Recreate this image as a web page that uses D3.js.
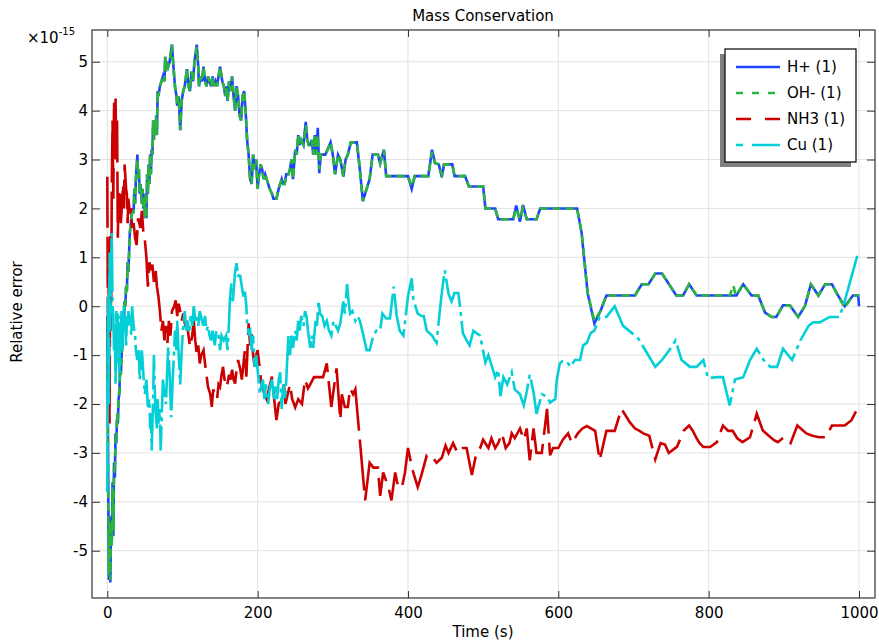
<!DOCTYPE html>
<html>
<head>
<meta charset="utf-8">
<script src="https://cdn.jsdelivr.net/npm/d3@7"></script>
<style>
body { margin: 0; background: #fff; }
text { font-family: "DejaVu Sans", sans-serif; fill: #000; }
</style>
</head>
<body>
<svg id="chart" width="879" height="640"></svg>
<script>
// tick values
var xTicks = [0, 200, 400, 600, 800, 1000];
var yTicks = [-5, -4, -3, -2, -1, 0, 1, 2, 3, 4, 5];
var seriesNames = ['H+ (1)', 'OH- (1)', 'NH3 (1)', 'Cu (1)'];

// [time (s), relative error x1e-15]
var hPlus = [[0,-0.2],[1,-3.0],[2,-5.6],[3,-4.3],[4,-5.65],[5,-4.5],[6,-4.8],[7,-3.6],[8,-4.7],[9,-3.2],[10,-3.5],[11,-2.6],[12,-2.8],[13,-2.3],[14,-2.4],[15,-1.9],[16,-1.8],[17,-1.3],[18,-1.4],[19,-1.0],[20,-0.8],[21,-0.4],[22,-0.5],[23,0.1],[24,0.0],[25,0.4],[26,0.3],[27,0.9],[28,0.7],[29,1.1],[30,1.5],[32,1.8],[33,2.0],[35,1.9],[36,2.4],[37,2.1],[38,2.6],[40,3.1],[41,2.6],[42,2.8],[43,2.3],[44,2.5],[46,2.1],[47,2.4],[48,2.0],[49,2.2],[50,1.8],[51,2.3],[52,1.8],[53,2.7],[54,2.3],[55,2.9],[56,2.5],[57,3.1],[58,2.7],[59,3.2],[60,3.1],[61,3.8],[62,3.4],[63,3.7],[64,3.5],[65,3.9],[66,3.5],[67,4.4],[68,4.3],[70,4.5],[72,4.6],[74,4.7],[76,4.6],[77,5.1],[78,4.8],[79,5.0],[81,4.9],[83,5.0],[86,5.35],[88,4.9],[90,4.5],[92,4.3],[93,4.1],[95,4.3],[97,3.6],[99,4.2],[101,4.4],[103,4.5],[106,4.85],[108,4.5],[110,4.4],[112,4.8],[114,4.6],[116,5.0],[119,5.35],[121,4.9],[122,4.5],[124,4.7],[126,4.6],[128,4.9],[130,4.6],[132,4.5],[134,4.7],[136,4.6],[138,4.5],[140,4.7],[142,4.5],[144,4.6],[146,4.5],[148,4.7],[150,4.9],[153,4.6],[155,4.5],[157,4.3],[159,4.5],[160,4.2],[162,4.6],[164,4.4],[166,4.7],[168,4.3],[170,4.0],[172,4.5],[174,4.3],[176,3.9],[178,3.8],[180,4.3],[182,4.4],[184,4.0],[186,3.4],[188,3.1],[190,2.6],[192,2.5],[194,3.1],[196,2.8],[198,3.0],[200,2.4],[202,2.7],[204,2.9],[206,2.8],[208,2.6],[210,2.7],[212,2.6],[214,2.5],[216,2.4],[219,2.3],[221,2.2],[225,2.2],[228,2.4],[230,2.5],[232,2.6],[234,2.5],[236,2.5],[238,2.7],[241,2.7],[243,2.8],[245,3.0],[247,2.6],[250,3.2],[252,3.1],[254,3.5],[256,3.3],[258,3.4],[261,3.3],[264,3.77],[266,3.4],[268,3.3],[270,3.3],[272,3.4],[274,3.1],[276,3.5],[278,3.1],[280,3.65],[282,2.72],[284,3.1],[290,3.1],[293,3.2],[297,3.35],[300,3.1],[303,2.7],[307,3.1],[310,3.0],[314,2.65],[317,3.0],[320,3.1],[324,3.35],[332,3.35],[336,2.8],[340,2.15],[345,2.4],[349,2.6],[353,3.1],[360,3.1],[363,2.92],[368,3.2],[371,2.66],[400,2.66],[405,2.4],[409,2.66],[427,2.66],[432,3.2],[436,2.93],[441,2.9],[445,2.64],[448,2.9],[459,2.9],[462,2.66],[476,2.66],[481,2.45],[500,2.45],[503,2.0],[516,2.0],[520,1.78],[540,1.78],[544,2.06],[549,1.73],[553,2.07],[558,1.78],[571,1.78],[576,2.0],[625,2.0],[631,1.5],[639,0.27],[648,-0.35],[656,-0.1],[664,0.22],[702,0.22],[711,0.45],[720,0.45],[729,0.67],[738,0.67],[757,0.22],[766,0.22],[774,0.45],[784,0.22],[837,0.22],[846,0.45],[857,0.22],[866,0.22],[875,-0.13],[884,-0.22],[890,-0.22],[899,0.02],[908,0.02],[919,-0.22],[928,0.0],[936,0.45],[946,0.22],[955,0.45],[964,0.45],[972,0.22],[981,0.0],[992,0.22],[999,0.22],[1000,0.0]];

var ohMinus = [[0,-0.3],[1,-3.1],[2,-5.5],[3,-4.4],[4,-5.6],[5,-4.4],[6,-4.9],[7,-3.7],[8,-4.6],[9,-3.3],[10,-3.4],[11,-2.7],[12,-2.8],[13,-2.2],[14,-2.4],[15,-1.9],[16,-1.7],[17,-1.3],[18,-1.4],[19,-1.0],[20,-0.8],[21,-0.4],[22,-0.5],[23,0.1],[24,0.0],[25,0.4],[26,0.3],[27,0.9],[28,0.7],[29,1.1],[30,1.5],[32,1.8],[33,2.0],[35,1.9],[36,2.4],[37,2.1],[38,2.6],[40,3.0],[41,2.6],[42,2.8],[43,2.3],[44,2.5],[46,2.1],[47,2.4],[48,2.0],[49,2.2],[50,1.8],[51,2.3],[52,1.8],[53,2.7],[54,2.3],[55,2.9],[56,2.5],[57,3.1],[58,2.7],[59,3.2],[60,3.1],[61,3.8],[62,3.4],[63,3.7],[64,3.5],[65,3.9],[66,3.5],[67,4.4],[68,4.3],[70,4.5],[72,4.6],[74,4.7],[76,4.6],[77,5.1],[78,4.8],[79,5.0],[81,4.9],[83,5.0],[86,5.35],[88,4.9],[90,4.5],[92,4.3],[93,4.1],[95,4.3],[97,3.6],[99,4.2],[101,4.4],[103,4.5],[106,4.85],[108,4.5],[110,4.4],[112,4.8],[114,4.6],[116,5.0],[119,5.3],[121,4.9],[122,4.5],[124,4.7],[126,4.6],[128,4.9],[130,4.6],[132,4.5],[134,4.7],[136,4.6],[138,4.5],[140,4.7],[142,4.5],[144,4.6],[146,4.5],[148,4.7],[150,4.9],[153,4.6],[155,4.5],[157,4.3],[159,4.5],[160,4.2],[162,4.6],[164,4.4],[166,4.7],[168,4.3],[170,4.0],[172,4.5],[174,4.3],[176,3.9],[178,3.8],[180,4.3],[182,4.4],[184,4.0],[186,3.4],[188,3.1],[190,2.6],[192,2.5],[194,3.1],[196,2.8],[198,3.0],[200,2.4],[202,2.7],[204,2.9],[206,2.8],[208,2.6],[210,2.7],[212,2.6],[214,2.5],[216,2.4],[219,2.3],[221,2.2],[225,2.2],[228,2.4],[230,2.5],[232,2.6],[234,2.5],[236,2.5],[238,2.7],[241,2.7],[243,2.8],[245,3.0],[247,2.6],[250,3.2],[252,3.1],[254,3.5],[256,3.3],[258,3.4],[261,3.3],[264,3.7],[266,3.4],[268,3.3],[270,3.3],[272,3.4],[274,3.1],[276,3.5],[278,3.1],[280,3.5],[282,2.8],[284,3.1],[290,3.1],[293,3.2],[297,3.35],[300,3.1],[303,2.7],[307,3.1],[310,3.0],[314,2.65],[317,3.0],[320,3.1],[324,3.35],[332,3.35],[336,2.8],[340,2.15],[345,2.4],[349,2.6],[353,3.1],[360,3.1],[363,2.92],[368,3.2],[371,2.66],[400,2.66],[405,2.45],[409,2.66],[427,2.66],[432,3.15],[436,2.93],[441,2.9],[445,2.7],[448,2.9],[459,2.9],[462,2.66],[476,2.66],[481,2.45],[500,2.45],[503,2.0],[516,2.0],[520,1.78],[540,1.78],[544,2.0],[549,1.78],[553,2.0],[558,1.78],[571,1.78],[576,2.0],[625,2.0],[631,1.5],[639,0.27],[648,-0.3],[656,-0.1],[664,0.22],[702,0.22],[711,0.45],[720,0.45],[729,0.67],[738,0.67],[757,0.22],[766,0.22],[774,0.45],[784,0.22],[828,0.22],[833,0.42],[836,0.22],[846,0.45],[857,0.22],[866,0.22],[875,-0.13],[884,-0.22],[890,-0.22],[899,0.02],[908,0.02],[919,-0.22],[928,0.0],[936,0.45],[946,0.22],[955,0.45],[964,0.45],[972,0.22],[981,-0.03],[992,0.22],[1000,0.22]];

var nh3 = [[0,2.65],[1,-1.0],[2,0.6],[3,-2.4],[4,1.5],[5,-0.5],[6,2.5],[7,3.8],[8,2.2],[9,4.2],[10,3.3],[11,4.25],[12,3.0],[13,3.8],[14,1.4],[15,2.4],[16,1.8],[17,2.3],[18,1.7],[19,1.95],[21,2.5],[22,2.0],[23,2.9],[25,2.4],[26,2.3],[27,1.7],[28,2.2],[30,1.9],[32,2.0],[33,1.6],[35,1.7],[37,1.4],[39,1.25],[41,1.8],[44,1.6],[46,1.95],[48,1.5],[50,1.35],[52,1.0],[54,0.4],[56,0.9],[58,0.74],[60,0.85],[62,0.5],[64,0.8],[66,0.4],[68,0.2],[70,-0.1],[72,-0.5],[74,-0.3],[76,-0.7],[78,-0.4],[80,-0.75],[82,-0.3],[84,-0.6],[86,-0.1],[89,0.0],[91,0.12],[93,-0.2],[95,0.05],[97,-0.1],[99,-0.3],[101,-0.15],[104,-0.43],[106,-0.3],[108,-0.6],[110,-0.83],[113,-0.6],[115,-0.3],[117,-0.7],[119,-0.97],[121,-0.8],[123,-1.17],[125,-1.0],[128,-0.9],[131,-1.3],[134,-1.65],[137,-1.8],[139,-2.06],[141,-1.7],[143,-1.8],[146,-1.9],[148,-1.6],[150,-1.65],[152,-1.4],[154,-1.24],[156,-1.5],[159,-1.65],[162,-1.4],[164,-1.5],[166,-1.3],[168,-1.5],[170,-1.58],[172,-1.3],[174,-1.1],[177,-1.3],[179,-1.5],[181,-1.2],[183,-0.9],[185,-1.44],[188,-0.35],[190,-0.8],[192,-0.57],[194,-1.0],[196,-1.24],[198,-1.0],[200,-0.9],[203,-1.3],[205,-1.6],[208,-1.75],[212,-1.9],[215,-1.7],[219,-1.44],[222,-1.9],[225,-2.33],[228,-2.0],[230,-1.95],[233,-2.0],[235,-1.6],[237,-2.0],[240,-1.8],[243,-1.6],[246,-1.9],[250,-2.07],[254,-1.9],[259,-2.0],[263,-1.5],[267,-1.68],[270,-1.6],[275,-1.45],[287,-1.45],[292,-1.17],[298,-2.06],[305,-1.27],[310,-2.33],[312,-1.8],[316,-2.06],[320,-2.06],[323,-1.68],[327,-1.8],[330,-1.7],[334,-2.4],[336,-2.74],[343,-3.97],[349,-3.2],[354,-3.3],[360,-3.3],[363,-3.88],[367,-3.4],[374,-3.7],[378,-3.97],[383,-3.4],[387,-3.7],[392,-3.7],[396,-3.4],[400,-2.9],[404,-3.2],[407,-3.4],[413,-3.7],[418,-3.45],[425,-3.05],[431,-3.05],[438,-3.2],[445,-3.1],[450,-2.85],[454,-3.0],[460,-2.8],[466,-3.0],[473,-2.9],[478,-2.9],[485,-3.45],[491,-3.0],[496,-2.9],[500,-2.73],[507,-2.9],[511,-2.7],[516,-2.9],[520,-2.8],[525,-2.6],[530,-2.9],[535,-2.8],[538,-2.6],[542,-2.7],[549,-2.5],[554,-2.73],[558,-2.5],[562,-3.15],[567,-2.5],[571,-3.0],[578,-3.0],[585,-2.1],[589,-3.05],[593,-2.9],[600,-2.9],[606,-2.73],[613,-2.6],[618,-2.8],[626,-2.6],[632,-2.5],[638,-2.45],[649,-2.55],[655,-3.15],[664,-2.55],[675,-2.55],[684,-2.1],[695,-2.37],[702,-2.5],[708,-2.55],[713,-2.6],[721,-2.65],[729,-3.13],[736,-2.8],[742,-2.83],[747,-3.0],[758,-2.87],[767,-2.54],[774,-2.44],[779,-2.55],[784,-2.7],[788,-2.8],[793,-2.88],[802,-2.88],[811,-2.78],[819,-2.44],[826,-2.55],[832,-2.55],[838,-2.7],[845,-2.78],[855,-2.68],[864,-2.2],[872,-2.54],[880,-2.65],[887,-2.74],[892,-2.78],[900,-2.68],[909,-2.8],[918,-2.44],[930,-2.6],[938,-2.65],[947,-2.68],[956,-2.68],[964,-2.44],[981,-2.44],[990,-2.33],[996,-2.15]];

var cu = [[0,-3.8],[1,0.2],[2,-2.0],[3,1.1],[4,-0.5],[5,0.9],[6,1.5],[7,0.0],[8,-0.2],[9,-0.9],[10,-0.4],[11,-1.6],[12,-0.1],[13,-1.2],[14,-0.1],[15,-0.6],[16,-1.5],[17,-0.2],[18,-0.5],[19,-0.1],[20,-0.9],[21,-0.3],[22,0.0],[23,-0.5],[24,-0.2],[25,-0.85],[26,-0.3],[27,-0.4],[28,-0.1],[30,-0.3],[32,-0.6],[33,0.0],[35,-0.4],[37,-0.6],[38,-0.9],[40,-1.1],[42,-0.9],[43,-1.5],[45,-1.2],[46,-0.9],[48,-1.4],[50,-1.8],[52,-1.5],[54,-2.06],[56,-1.9],[57,-2.5],[58,-2.2],[59,-2.95],[61,-1.9],[62,-1.0],[63,-1.6],[64,-2.1],[66,-2.5],[67,-1.9],[68,-2.4],[70,-2.1],[71,-2.95],[73,-2.0],[74,-1.5],[76,-1.8],[78,-2.0],[79,-1.6],[81,-0.83],[83,-1.4],[85,-2.27],[87,-1.5],[89,-0.9],[90,-0.5],[92,-0.9],[93,-0.3],[95,-1.0],[97,-1.6],[99,-0.9],[101,-0.4],[103,-0.1],[105,-0.5],[107,-0.3],[109,-0.55],[111,-0.2],[113,-0.4],[115,0.0],[117,-0.3],[119,-0.2],[121,-0.4],[123,-0.1],[126,-0.3],[128,-0.4],[130,-0.2],[132,-0.5],[134,-0.4],[136,-0.6],[138,-0.7],[140,-0.5],[143,-0.8],[145,-0.5],[148,-0.6],[150,-0.9],[152,-0.6],[155,-0.7],[158,-0.6],[160,-0.9],[162,-0.3],[163,0.1],[165,0.47],[167,0.1],[170,0.7],[172,0.88],[174,0.6],[176,0.7],[179,0.4],[181,0.2],[183,0.3],[185,0.0],[186,-0.4],[188,-0.55],[190,-0.5],[192,-0.9],[194,-0.6],[196,-1.24],[198,-1.0],[200,-1.3],[203,-1.8],[205,-1.6],[207,-1.5],[209,-1.9],[211,-1.6],[214,-2.0],[216,-1.7],[219,-1.5],[222,-1.9],[224,-1.6],[226,-1.9],[228,-1.5],[230,-1.35],[232,-2.1],[234,-1.6],[237,-1.9],[239,-1.2],[241,-0.6],[243,-1.0],[245,-0.6],[247,-0.85],[250,-0.5],[252,-0.7],[254,-0.3],[256,-0.5],[258,-0.2],[261,-0.4],[263,-0.1],[265,-0.2],[267,-0.5],[270,-0.85],[272,-0.6],[274,-0.85],[277,-0.3],[279,-0.4],[281,0.12],[283,-0.15],[286,-0.2],[289,-0.4],[292,-0.3],[295,-0.5],[298,-0.6],[301,-0.3],[304,-0.4],[307,-0.5],[310,-0.35],[314,0.1],[316,-0.15],[319,0.45],[321,0.1],[323,-0.15],[326,-0.1],[330,-0.3],[333,-0.2],[336,-0.3],[340,-0.55],[345,-0.9],[349,-0.9],[354,-0.6],[358,-0.5],[363,-0.5],[366,-0.15],[371,-0.25],[376,-0.25],[381,0.4],[385,-0.2],[389,-0.5],[394,-0.6],[400,0.2],[405,0.57],[407,0.15],[413,-0.15],[418,-0.2],[421,-0.2],[425,-0.5],[432,-0.6],[438,-0.75],[443,0.0],[446,0.4],[449,0.73],[454,0.25],[458,0.1],[462,0.27],[467,0.27],[470,-0.1],[473,-0.55],[478,-0.7],[482,-0.8],[487,-0.5],[491,-0.55],[496,-0.6],[503,-1.15],[507,-1.0],[511,-1.2],[516,-1.45],[520,-1.3],[523,-1.84],[527,-1.45],[532,-1.6],[538,-1.35],[542,-1.7],[549,-1.8],[554,-2.03],[558,-1.75],[562,-1.4],[567,-1.75],[571,-2.2],[578,-1.8],[585,-1.85],[589,-1.97],[596,-1.9],[598,-1.5],[602,-1.17],[606,-1.12],[611,-1.12],[616,-1.24],[622,-1.1],[629,-1.1],[633,-0.8],[638,-0.75],[643,-0.55],[648,-0.5],[655,-0.22],[664,-0.22],[670,-0.1],[675,0.0],[686,-0.4],[698,-0.55],[706,-0.65],[715,-0.88],[729,-1.24],[738,-1.1],[749,-0.87],[756,-0.7],[764,-1.1],[775,-1.24],[784,-1.24],[793,-1.1],[799,-1.47],[811,-1.45],[819,-1.45],[828,-2.03],[835,-1.5],[846,-1.45],[855,-1.1],[864,-0.87],[873,-1.1],[882,-1.24],[891,-1.24],[899,-0.87],[911,-1.1],[922,-0.7],[933,-0.4],[939,-0.33],[948,-0.33],[961,-0.22],[974,-0.22],[979,0.0],[990,0.6],[999,1.1]];

var series = [
  {data: hPlus,   color: '#1e43ff', dash: null,         legendDash: null},
  {data: ohMinus, color: '#2cb53c', dash: '8,5',        legendDash: '7,9'},
  {data: nh3,     color: '#cc0000', dash: '51,9',       legendDash: '15,14'},
  {data: cu,      color: '#03cfd6', dash: '50,5,4,5',   legendDash: '7,9,28,9'}
];

var svg = d3.select('#chart');

//plot box
var boxL = 92, boxR = 875, boxT = 30, boxB = 598;
var fs = 15;

var x = d3.scaleLinear().domain([-20.35, 1021.3]).range([boxL, boxR]);
var y = d3.scaleLinear().domain([-5.967, 5.649]).range([boxB, boxT]);

// grid
svg.append('g').selectAll('line')
   .data(xTicks).enter().append('line')
   .attr('x1', d => x(d)).attr('x2', d => x(d))
   .attr('y1', boxT).attr('y2', boxB)
   .attr('stroke', '#e2e2e2').attr('stroke-width', 1);

svg.append('g').selectAll('line')
   .data(yTicks).enter().append('line')
   .attr('x1', boxL).attr('x2', boxR)
   .attr('y1', d => y(d)).attr('y2', d => y(d))
   .attr('stroke', '#e2e2e2').attr('stroke-width', 1);

// lines, clipped to the box
svg.append('clipPath').attr('id', 'clip')
   .append('rect')
   .attr('x', boxL).attr('y', boxT)
   .attr('width', boxR - boxL).attr('height', boxB - boxT);

var line = d3.line().x(d => x(d[0])).y(d => y(d[1]));

svg.append('g').attr('clip-path', 'url(#clip)')
   .selectAll('path')
   .data(series).enter().append('path')
   .attr('d', d => line(d.data))
   .attr('fill', 'none')
   .attr('stroke', d => d.color)
   .attr('stroke-width', 2.6)
   .attr('stroke-dasharray', d => d.dash);

// axes (ticks point inwards)
var fmt = d => String(d);

var xAxis = svg.append('g')
   .attr('transform', 'translate(0,' + boxB + ')')
   .call(d3.axisBottom(x).tickValues(xTicks).tickFormat(fmt).tickSizeInner(-7).tickSizeOuter(0).tickPadding(9));
var yAxis = svg.append('g')
   .attr('transform', 'translate(' + boxL + ',0)')
   .call(d3.axisLeft(y).tickValues(yTicks).tickFormat(fmt).tickSizeInner(-8).tickSizeOuter(0).tickPadding(4));
var xTop = svg.append('g')
   .attr('transform', 'translate(0,' + boxT + ')')
   .call(d3.axisTop(x).tickValues(xTicks).tickFormat('').tickSizeInner(-7).tickSizeOuter(0));
var yRight = svg.append('g')
   .attr('transform', 'translate(' + boxR + ',0)')
   .call(d3.axisRight(y).tickValues(yTicks).tickFormat('').tickSizeInner(-8).tickSizeOuter(0));

[xAxis, yAxis, xTop, yRight].forEach(function (g) {
  g.select('.domain').remove();
  g.selectAll('line').attr('stroke', '#333');
  g.selectAll('text').attr('font-size', fs).attr('font-family', '"DejaVu Sans", sans-serif').attr('fill', '#000');
});

svg.append('rect')
   .attr('x', boxL).attr('y', boxT)
   .attr('width', boxR - boxL).attr('height', boxB - boxT)
   .attr('fill', 'none').attr('stroke', '#333').attr('stroke-width', 1.2);

// titles
svg.append('text').attr('x', 483).attr('y', 21)
   .attr('text-anchor', 'middle').attr('font-size', fs)
   .text('Mass Conservation');

svg.append('text').attr('x', 483).attr('y', 637)
   .attr('text-anchor', 'middle').attr('font-size', fs)
   .text('Time (s)');

svg.append('text')
   .attr('transform', 'translate(22,312) rotate(-90)')
   .attr('text-anchor', 'middle').attr('font-size', fs)
   .text('Relative error');

var exp = svg.append('text').attr('x', 27).attr('y', 43).attr('font-size', fs);
exp.append('tspan').text('\u00d710');
exp.append('tspan').attr('dy', -8).attr('font-size', 10).text('-15');

// legend
var lg = svg.append('g');
lg.append('rect').attr('x', 720).attr('y', 54).attr('width', 131).attr('height', 113).attr('fill', '#808080');
lg.append('rect').attr('x', 725).attr('y', 49).attr('width', 131).attr('height', 113)
  .attr('fill', '#fff').attr('stroke', '#000').attr('stroke-width', 1.2);

var item = lg.selectAll('g.item')
   .data(series).enter().append('g')
   .attr('transform', (d, i) => 'translate(0,' + (67 + i * 26) + ')');

item.append('line')
   .attr('x1', 736).attr('x2', 780)
   .attr('stroke', d => d.color).attr('stroke-width', 2.6)
   .attr('stroke-dasharray', d => d.legendDash);

item.append('text')
   .attr('x', 787).attr('y', 5).attr('font-size', fs)
   .text((d, i) => seriesNames[i]);
</script>
</body>
</html>
